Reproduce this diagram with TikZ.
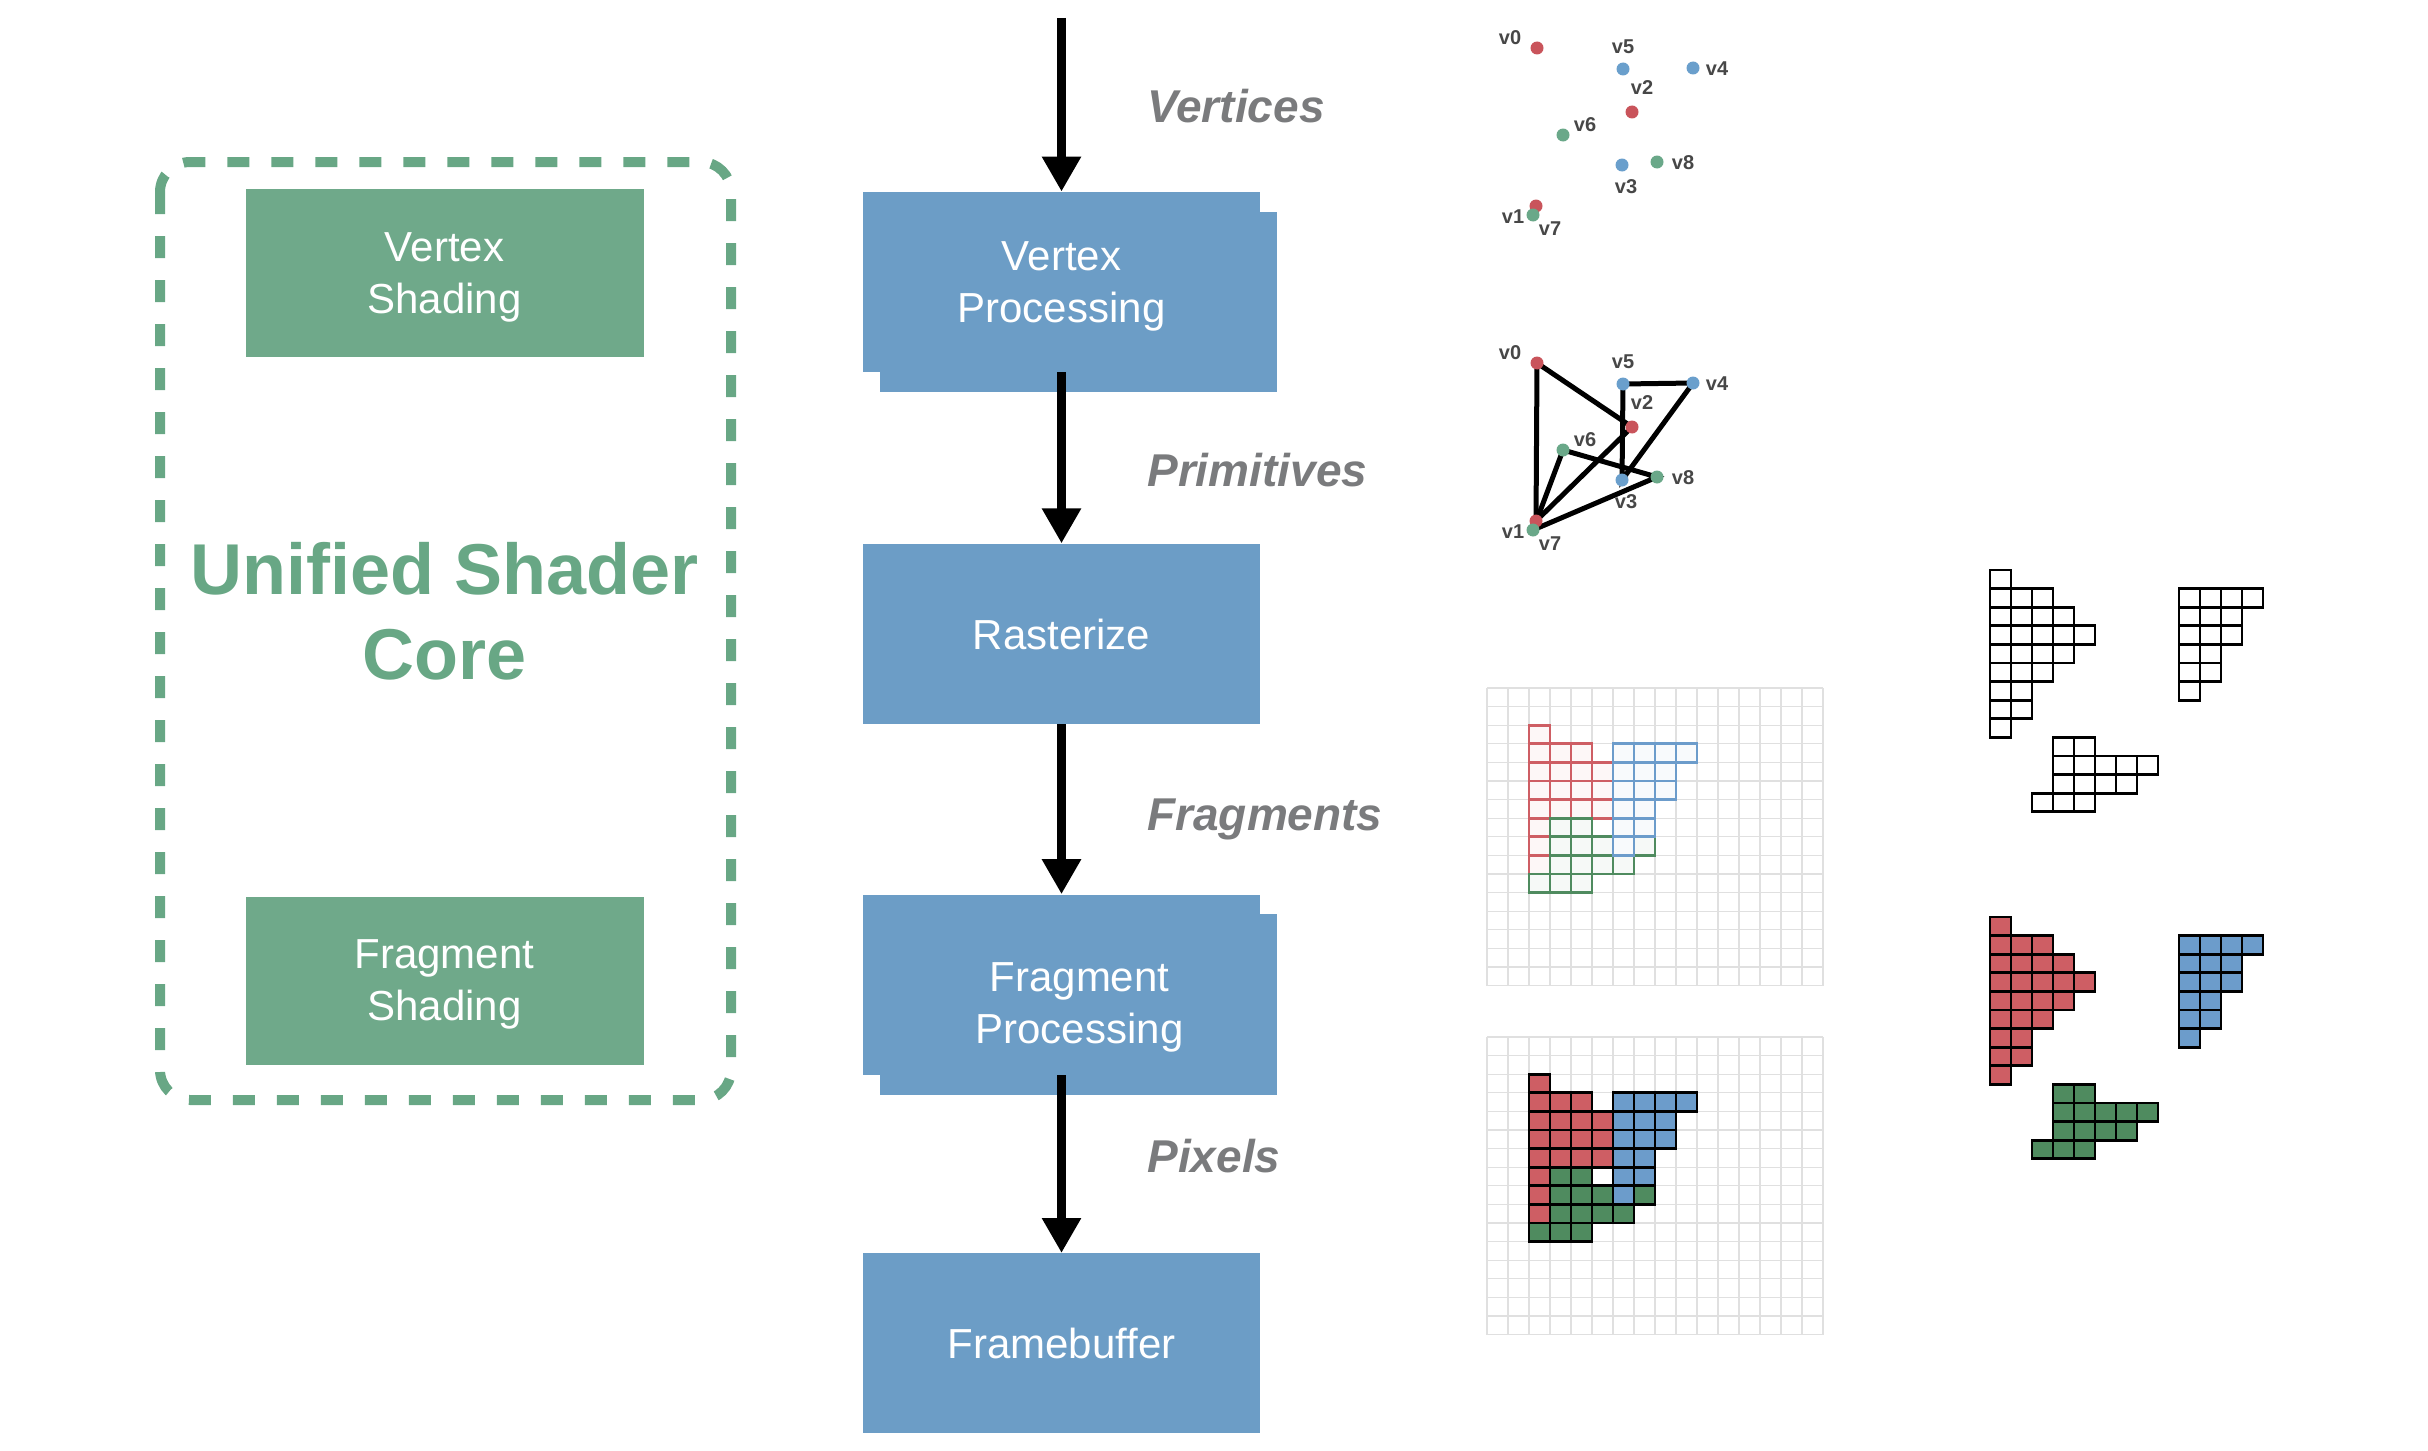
\documentclass[tikz,border=0pt]{standalone}
\usepackage{fontspec}
\setmainfont{Liberation Sans}
\usetikzlibrary{positioning,arrows.meta,backgrounds}

\definecolor{stageblue}{HTML}{6C9DC6}
\definecolor{shadegreen}{HTML}{6FA98A}
\definecolor{coregreen}{HTML}{68A785}
\definecolor{labelgrey}{HTML}{7A7B7D}
\definecolor{vtxred}{HTML}{C9545B}
\definecolor{vtxblue}{HTML}{6A9FCC}
\definecolor{vtxgreen}{HTML}{6AA889}
\definecolor{fragred}{HTML}{CE5E64}
\definecolor{fragblue}{HTML}{6C9CCB}
\definecolor{fraggreen}{HTML}{4F8B5F}

% row/first column/last column of each fragment shape
\newcommand{\redlist}{0/0/0,1/0/2,2/0/3,3/0/4,4/0/3,5/0/2,6/0/1,7/0/1,8/0/0}
\newcommand{\bluelist}{0/0/3,1/0/2,2/0/2,3/0/1,4/0/1,5/0/0}
\newcommand{\greenlist}{0/1/2,1/1/5,2/1/4,3/0/2}

\newcommand{\fragcells}[4]{%
  \foreach \rowi/\ca/\cb in #4 {%
    \foreach \ci in {\ca,...,\cb}
      \draw[#1] (#2+\ci,#3+\rowi) rectangle ++(1,1);
  }}
\newcommand{\pixgrid}{%
  \foreach \k in {0,...,16} {%
    \draw[gridline] (\k,0) -- (\k,16);
    \draw[gridline] (0,\k) -- (16,\k);
  }}
% second sheet behind a stage box
\newcommand{\stacksheet}[1]{%
  \begin{pgfonlayer}{background}
    \fill[stageblue] ([xshift=8.5pt,yshift=-10pt]#1.north west) rectangle
      ([xshift=8.5pt,yshift=-10pt]#1.south east);
  \end{pgfonlayer}}

\tikzset{
  stage/.style={rectangle, fill=stageblue, text=white, align=center,
    minimum width=198.5pt, minimum height=90pt, inner sep=0pt, text depth=0pt,
    font=\fontsize{21}{26}\selectfont},
  stagetext/.style={text=white, align=center, inner sep=0pt, text depth=0pt,
    font=\fontsize{21}{26}\selectfont},
  shader/.style={rectangle, fill=shadegreen, text=white, align=center,
    minimum width=199pt, minimum height=84pt, text depth=0pt,
    font=\fontsize{21}{26}\selectfont},
  coretext/.style={text=coregreen, align=center,
    font=\bfseries\fontsize{36}{42.5}\selectfont},
  coreframe/.style={draw=coregreen, line width=5pt, dash pattern=on 11pt off 11pt,
    rounded corners=15pt},
  flow/.style={line width=4.5pt, -{Triangle[length=17.5pt,width=18.5pt]}},
  flowlabel/.style={anchor=base west, inner sep=0pt, text=labelgrey,
    font=\bfseries\itshape\fontsize{23}{27}\selectfont},
  vdot/.style={circle, fill=#1, minimum size=6.5pt, inner sep=0pt},
  vlbl/.style={text=black!72, inner sep=0pt,
    font=\bfseries\fontsize{10}{11}\selectfont},
  tri/.style={line width=2.5pt},
  gridline/.style={draw=black!12, line width=0.6pt},
  redout/.style={draw=fragred, fill=fragred!5, line width=1.4pt},
  greenout/.style={draw=fraggreen, fill=fraggreen!5, line width=1.4pt},
  blueout/.style={draw=fragblue, fill=fragblue!5, line width=1.4pt},
  redfill/.style={draw=black, fill=fragred, line width=1.4pt},
  greenfill/.style={draw=black, fill=fraggreen, line width=1.4pt},
  bluefill/.style={draw=black, fill=fragblue, line width=1.4pt},
  cellbox/.style={draw=black, line width=1.4pt}
}

\begin{document}
\begin{tikzpicture}[x=0.5pt, y=-0.5pt]
\useasboundingbox (0,0) rectangle (2428,1450);

% unified shader core
\draw[coreframe] (160,162) rectangle (731,1100);
\node[shader] (vshade) at (444.5,273) {Vertex\\Shading};
\node[shader] (fshade) at (444.5,980.5) {Fragment\\Shading};
\node[coretext] (core) at (444.5,611) {Unified Shader\\Core};

% pipeline
\node[stage] (vertex) at (1061.5,282) {Vertex\\Processing};
\node[stage, below=85.5pt of vertex] (raster) {Rasterize};
\node[stage, below=85pt of raster] (frag) {};
\node[stagetext] (fragtxt) at ([xshift=9pt,yshift=-9pt]frag.center) {Fragment\\Processing};
\node[stage, below=89pt of frag] (fbuf) {Framebuffer};
\stacksheet{vertex}
\stacksheet{frag}
\coordinate (src) at (1061.5,18);

\draw[flow] (src) -- (vertex);
\draw[flow] (vertex) -- (raster);
\draw[flow] (raster) -- (frag);
\draw[flow] (frag) -- (fbuf);

\node[flowlabel] (lvert) at (1147,122) {Vertices};
\node[flowlabel] (lprim) at (1147,486) {Primitives};
\node[flowlabel] (lfrag) at (1147,830) {Fragments};
\node[flowlabel] (lpix) at (1147,1172) {Pixels};

% vertices, then the same vertices joined into triangles
\foreach \n/\x/\y/\c/\dx/\dy in {0/1537/48/vtxred/-27/-10, 1/1536/206/vtxred/-23/11,
    2/1632/112/vtxred/10/-24, 3/1622/165/vtxblue/4/22, 4/1693/68/vtxblue/24/1,
    5/1623/69/vtxblue/0/-22, 6/1563/135/vtxgreen/22/-10, 7/1533/215/vtxgreen/17/14,
    8/1657/162/vtxgreen/26/1} {
  \node[vdot=\c] (a\n) at (\x,\y) {};
  \node[vlbl] (la\n) at (\x+\dx,\y+\dy) {v\n};
  \node[vdot=\c] (b\n) at (\x,\y+315) {};
  \node[vlbl] (lb\n) at (\x+\dx,\y+\dy+315) {v\n};
}
\begin{pgfonlayer}{background}
  \draw[tri] (b0.center) -- (b1.center) -- (b2.center) -- cycle;
  \draw[tri] (b3.center) -- (b4.center) -- (b5.center) -- cycle;
  \draw[tri] (b6.center) -- (b7.center) -- (b8.center) -- cycle;
\end{pgfonlayer}

% fragments on the pixel grid
\begin{scope}[shift={(1487,688)}, x=10.5pt, y=-9.3pt]
  \pixgrid
  \fragcells{redout}{2}{2}{\redlist}
  \fragcells{greenout}{2}{7}{\greenlist}
  \fragcells{blueout}{6}{3}{\bluelist}
\end{scope}
\begin{scope}[shift={(1487,1037)}, x=10.5pt, y=-9.3pt]
  \pixgrid
  \fragcells{redfill}{2}{2}{\redlist}
  \fragcells{greenfill}{2}{7}{\greenlist}
  \fragcells{bluefill}{6}{3}{\bluelist}
\end{scope}

% fragments pulled apart
\begin{scope}[shift={(1990,570)}, x=10.5pt, y=-9.3pt]
  \fragcells{cellbox}{0}{0}{\redlist}
  \fragcells{cellbox}{9}{1}{\bluelist}
  \fragcells{cellbox}{2}{9}{\greenlist}
\end{scope}
\begin{scope}[shift={(1990,917)}, x=10.5pt, y=-9.3pt]
  \fragcells{redfill}{0}{0}{\redlist}
  \fragcells{bluefill}{9}{1}{\bluelist}
  \fragcells{greenfill}{2}{9}{\greenlist}
\end{scope}
\end{tikzpicture}
\end{document}
